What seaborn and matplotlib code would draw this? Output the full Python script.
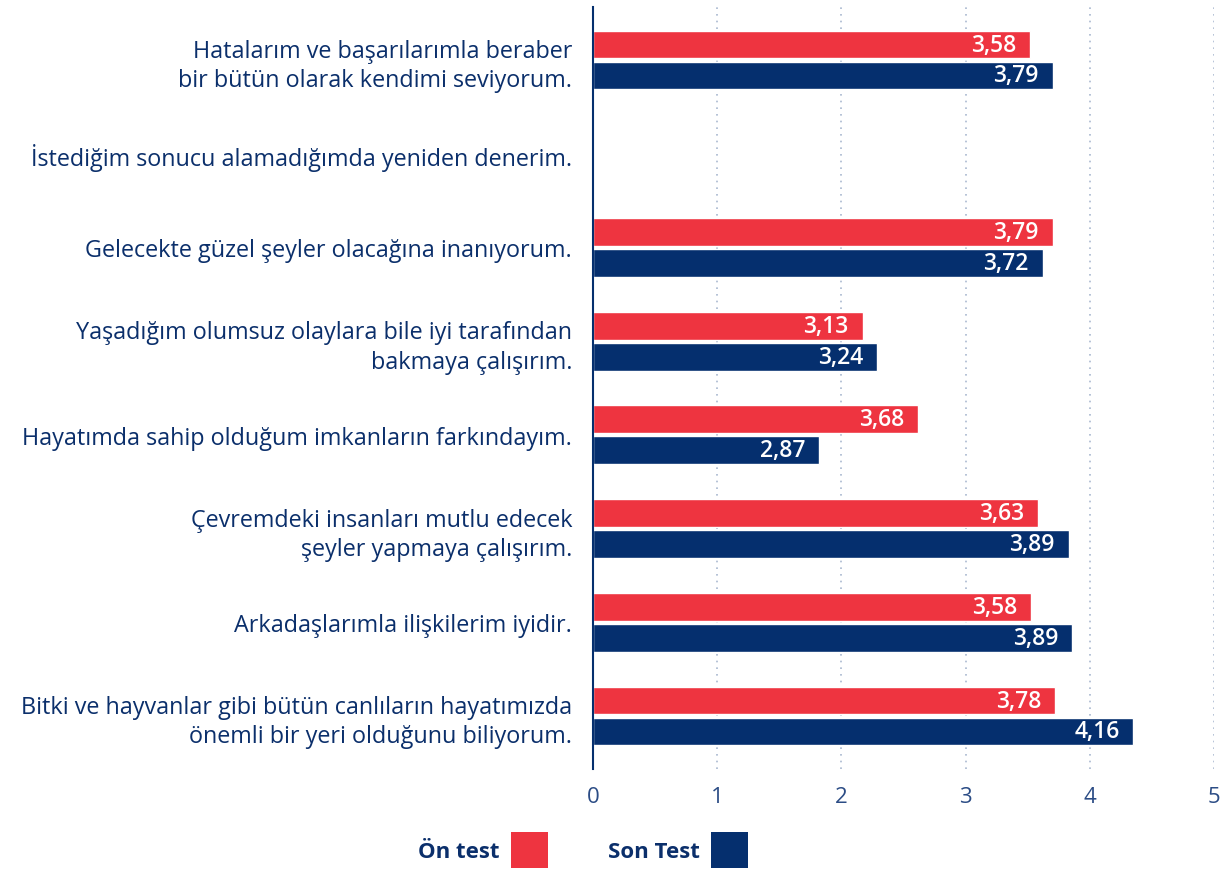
import numpy as np
import pandas as pd
import matplotlib
matplotlib.use("Agg")
import matplotlib.pyplot as plt
from matplotlib.patches import Patch
import seaborn as sns

categories = [
    "Hatalarım ve başarılarımla beraber\nbir bütün olarak kendimi seviyorum.",
    "İstediğim sonucu alamadığımda yeniden denerim.",
    "Gelecekte güzel şeyler olacağına inanıyorum.",
    "Yaşadığım olumsuz olaylara bile iyi tarafından\nbakmaya çalışırım.",
    "Hayatımda sahip olduğum imkanların farkındayım.",
    "Çevremdeki insanları mutlu edecek\nşeyler yapmaya çalışırım.",
    "Arkadaşlarımla ilişkilerim iyidir.",
    "Bitki ve hayvanlar gibi bütün canlıların hayatımızda\nönemli bir yeri olduğunu biliyorum.",
]
series = ["Ön test", "Son Test"]
# bar lengths as drawn in the picture
on_test_bars = [3.52, np.nan, 3.70, 2.17, 2.62, 3.58, 3.53, 3.72]
son_test_bars = [3.70, np.nan, 3.62, 2.29, 1.82, 3.83, 3.86, 4.35]
# printed value labels
on_test_labels = ["3,58", "", "3,79", "3,13", "3,68", "3,63", "3,58", "3,78"]
son_test_labels = ["3,79", "", "3,72", "3,24", "2,87", "3,89", "3,89", "4,16"]
x_ticks = [0, 1, 2, 3, 4, 5]

RED = "#EE3440"
NAVY = "#052F6E"
TEXT = "#0B2F6B"

sns.set_theme(style="white")
plt.rcParams["font.family"] = ["Open Sans", "DejaVu Sans"]

df = pd.DataFrame({
    "category": categories * 2,
    "series": [series[0]] * len(categories) + [series[1]] * len(categories),
    "value": on_test_bars + son_test_bars,
})

fig = plt.figure(figsize=(12.23, 8.70), dpi=100)
ax = fig.add_axes([593 / 1223, 1 - 770 / 870, (1214 - 593) / 1223, (770 - 8) / 870])

sns.barplot(data=df, y="category", x="value", hue="series", order=categories,
            hue_order=series, palette=[RED, NAVY], orient="h", width=0.66, gap=0.1,
            errorbar=None, ax=ax, legend=False, saturation=1)

ax.set_xlim(0, 5)
ax.set_ylim(7.566, -0.566)
ax.set_xticks(x_ticks)
ax.set_xticklabels([str(t) for t in x_ticks], fontsize=16, color="#2B4C85")
ax.set_xlabel("")
ax.set_ylabel("")
ax.tick_params(axis="y", length=0, pad=15, labelsize=16.8, labelcolor=TEXT)
ax.tick_params(axis="x", length=0, pad=12)
for lbl in ax.get_yticklabels():
    lbl.set_multialignment("right")
    lbl.set_linespacing(1.3)

for v in x_ticks[1:]:
    ax.axvline(v, color="#A9B8D0", lw=1.2, ls=(0, (1, 3)), zorder=0)

for s in ["top", "right", "bottom"]:
    ax.spines[s].set_visible(False)
ax.spines["left"].set_color(NAVY)
ax.spines["left"].set_linewidth(1.5)

# value labels, matched to categories by bar position
for container, labels in zip(ax.containers, [on_test_labels, son_test_labels]):
    for patch in container.patches:
        w = patch.get_width()
        yc = patch.get_y() + patch.get_height() / 2
        idx = int(round(yc))
        lab = labels[idx]
        if not lab or np.isnan(w):
            continue
        ax.annotate(lab, (w, yc), xytext=(-10, 0), textcoords="offset points",
                    ha="right", va="center", color="white", fontsize=16.5,
                    fontweight="semibold")

handles = [Patch(facecolor=RED, edgecolor="none"), Patch(facecolor=NAVY, edgecolor="none")]
fig.legend(handles, series, loc="center", bbox_to_anchor=(0.477, 0.022), ncol=2,
           markerfirst=False, frameon=False, handlelength=1.67, handleheight=2.1,
           handletextpad=0.5, columnspacing=2.7,
           prop={"size": 16, "weight": "bold"}, labelcolor=TEXT)

fig.savefig("out.png", dpi=100)
